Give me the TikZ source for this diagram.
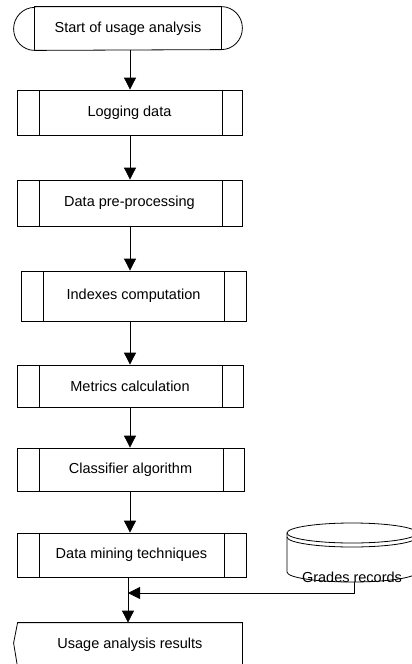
\documentclass[tikz,border=0pt]{standalone}
\usepackage{fontspec}
\setmainfont{Liberation Sans}
\usetikzlibrary{arrows.meta,calc}
\begin{document}
\begin{tikzpicture}[x=1pt,y=-1pt,
  font=\fontsize{14.5}{17}\selectfont,
  line width=0.8pt,
  arr/.style={-{Triangle[length=12pt,width=12pt]}},
  subr/.style n args={4}{draw, rectangle, inner sep=0pt,
    minimum width=#1, minimum height=#2,
    path picture={
      \draw[line width=0.8pt] ([xshift=#3]path picture bounding box.north west) -- ([xshift=#3]path picture bounding box.south west);
      \draw[line width=0.8pt] ([xshift=-#4]path picture bounding box.north east) -- ([xshift=-#4]path picture bounding box.south east);
    }},
  plain/.style={inner sep=0pt}
]
\useasboundingbox (0,0) rectangle (412,664);
\clip (0,0) rectangle (412,664);

% arrow columns
\coordinate (ax) at (130,0);
\coordinate (jx) at (128,0);

% start terminal
\node[plain, minimum width=186pt, minimum height=43pt] (st) at (128,28.5) {Start of usage analysis};
\draw (st.north west) -- (st.north east)
  arc[start angle=90, end angle=-90, x radius=21pt, y radius=21.5pt]
  -- (st.south west)
  arc[start angle=270, end angle=90, x radius=21pt, y radius=21.5pt] -- cycle;
\draw (st.north west) -- (st.south west);
\draw (st.north east) -- (st.south east);

% process boxes
\node[subr={225pt}{45pt}{22pt}{20pt}] (log) at (129.5,112.5) {Logging data};
\node[subr={225pt}{46pt}{22pt}{20pt}] (pre) at (129.5,203) {Data pre-processing};
\node[subr={225pt}{50pt}{22pt}{22pt}] (idx) at (133.5,296) {Indexes computation};
\node[subr={226pt}{42pt}{22pt}{21pt}] (met) at (130,386) {Metrics calculation};
\node[subr={227pt}{43pt}{22pt}{21pt}] (cls) at (130.5,469.5) {Classifier algorithm};
\node[subr={229pt}{44pt}{22pt}{22pt}] (dm) at (131.5,555) {Data mining techniques};

% results (display-like shape)
\node[plain, minimum width=224pt, minimum height=44pt] (res) at (130,645) {Usage analysis results};
\draw (res.north west) -- (res.north east) -- (res.south east) -- (res.south west)
  -- ([xshift=-4pt,yshift=2pt]res.west) -- cycle;

% grades records cylinder
\draw (352,533) ellipse [x radius=65pt, y radius=10pt];
\draw (287,537) arc[start angle=180, end angle=360, x radius=65pt, y radius=10pt];
\draw (287,533) -- (287,572)
  arc[start angle=180, end angle=360, x radius=65pt, y radius=10pt] -- (417,533);
\node[plain] (gr) at (352,577) {Grades records};
\coordinate (grb) at (354,582);
\coordinate (j) at (128,593);

% connectors
\draw[arr] (st.south -| ax) -- (log.north -| ax);
\draw[arr] (log.south -| ax) -- (pre.north -| ax);
\draw[arr] (pre.south -| ax) -- (idx.north -| ax);
\draw[arr] (idx.south -| ax) -- (met.north -| ax);
\draw[arr] (met.south -| ax) -- (cls.north -| ax);
\draw[arr] (cls.south -| ax) -- (dm.north -| ax);
\draw (dm.south -| jx) -- (j);
\draw[arr] (j) -- (res.north -| jx);
\draw[arr] (grb) |- (j);
\end{tikzpicture}
\end{document}
